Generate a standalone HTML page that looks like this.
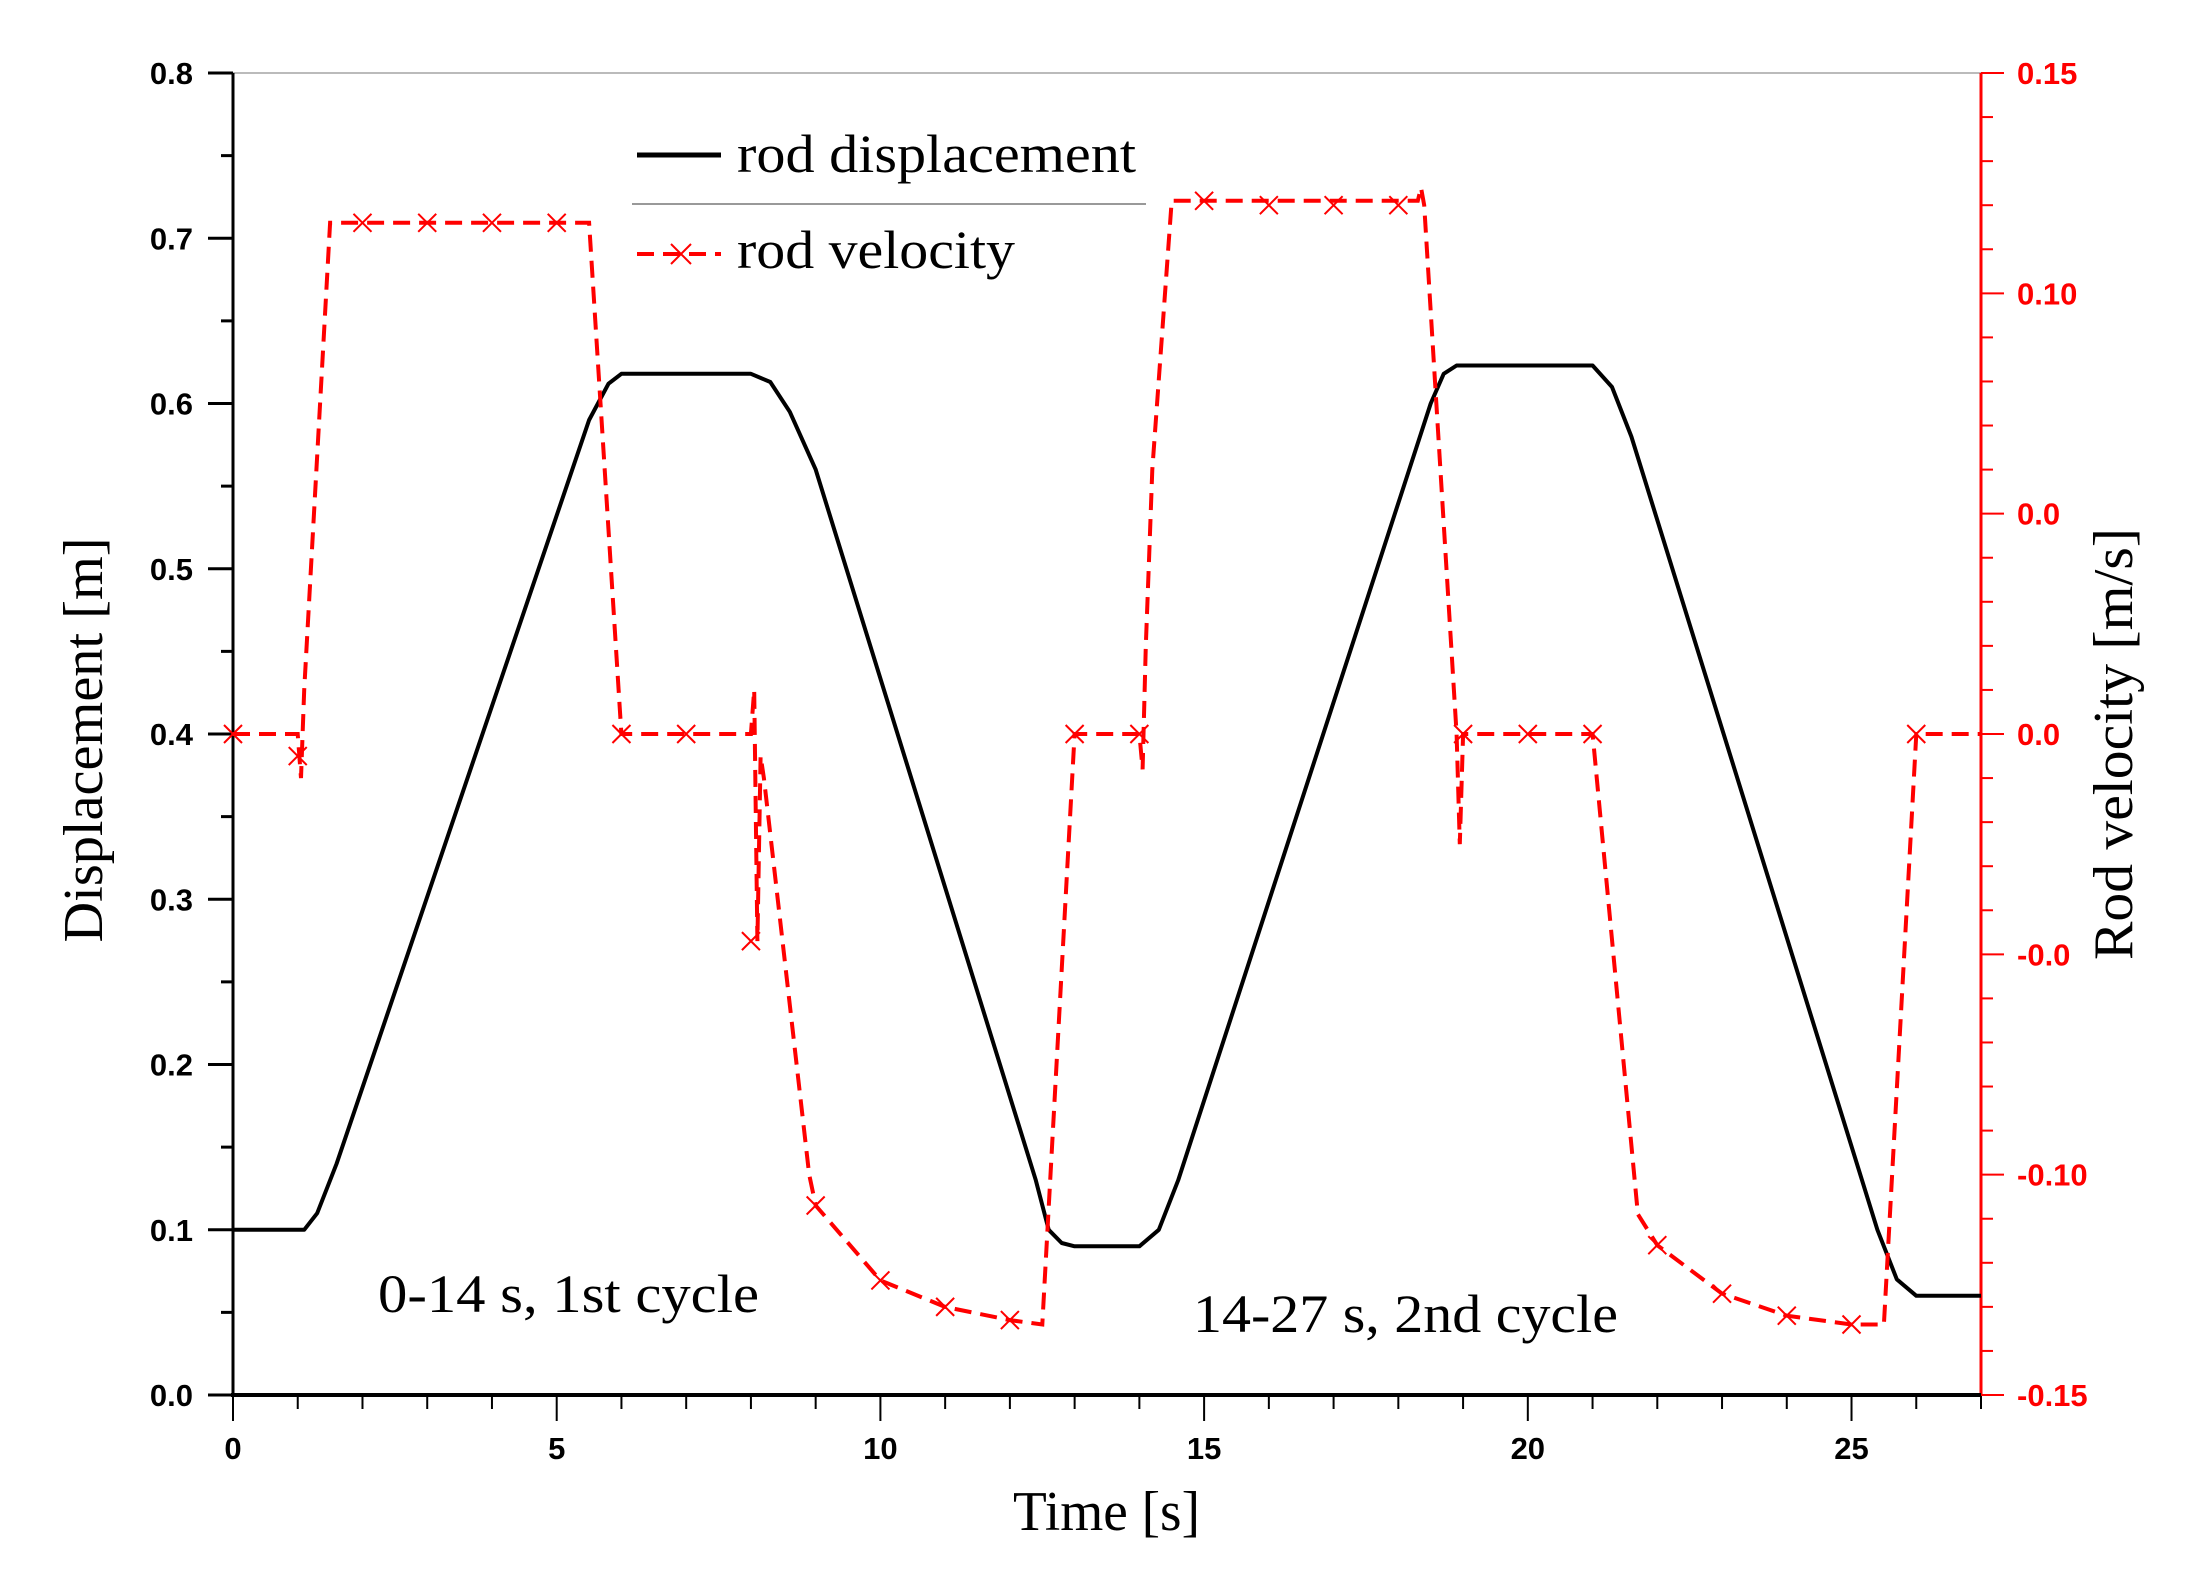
<!DOCTYPE html>
<html><head><meta charset="utf-8"><style>
html,body{margin:0;padding:0;background:#fff}
svg{display:block}
.tl{font-family:"Liberation Sans",sans-serif;font-weight:bold;font-size:31px}
.ser{font-family:"Liberation Serif",serif}
</style></head><body>
<svg id="chart" width="2187" height="1584" viewBox="0 0 2187 1584" xmlns="http://www.w3.org/2000/svg">
<g id="axes"></g>
<g id="series"></g>
<g>
  <line x1="637" y1="155" x2="721" y2="155" stroke="#000" stroke-width="5"/>
  <text class="ser" x="737" y="172" font-size="54" textLength="399" lengthAdjust="spacingAndGlyphs">rod displacement</text>
  <line x1="632" y1="204" x2="1146" y2="204" stroke="#999" stroke-width="2"/>
  <line x1="637" y1="254" x2="721" y2="254" stroke="#f00" stroke-width="4" stroke-dasharray="17,9"/>
  <path d="M671,244 L691,264 M671,264 L691,244" stroke="#f00" stroke-width="2"/>
  <text class="ser" x="737" y="268" font-size="54" textLength="278" lengthAdjust="spacingAndGlyphs">rod velocity</text>
</g>
<text class="ser" x="378" y="1312" font-size="54" textLength="381" lengthAdjust="spacingAndGlyphs">0-14 s, 1st cycle</text>
<text class="ser" x="1193" y="1332" font-size="54" textLength="425" lengthAdjust="spacingAndGlyphs">14-27 s, 2nd cycle</text>
<text class="ser" x="1013" y="1530" font-size="56" textLength="187" lengthAdjust="spacingAndGlyphs">Time [s]</text>
<text class="ser" font-size="56" text-anchor="middle" textLength="405" lengthAdjust="spacingAndGlyphs" transform="translate(102,740) rotate(-90)">Displacement [m]</text>
<text class="ser" font-size="56" text-anchor="middle" textLength="432" lengthAdjust="spacingAndGlyphs" transform="translate(2132,744) rotate(-90)">Rod velocity [m/s]</text>
</svg>
<script>
const xTicks=[0,5,10,15,20,25];
const yTicks=[0.0,0.1,0.2,0.3,0.4,0.5,0.6,0.7,0.8];
const y2Ticks=[-0.15,-0.10,-0.05,0.0,0.05,0.10,0.15];
const y2Labels=["-0.15","-0.10","-0.0","0.0","0.0","0.10","0.15"];
const dispT=[0,1.1,1.3,1.6,5.5,5.8,6.0,8.0,8.3,8.6,9.0,12.4,12.6,12.8,13.0,14.0,14.3,14.6,18.5,18.7,18.9,21.0,21.3,21.6,25.4,25.7,26.0,27];
const dispV=[0.1,0.1,0.11,0.14,0.59,0.612,0.618,0.618,0.613,0.595,0.56,0.13,0.1,0.092,0.09,0.09,0.1,0.13,0.6,0.618,0.623,0.623,0.61,0.58,0.1,0.07,0.06,0.06];
const velT=[0,1.0,1.05,1.1,1.5,5.5,6.0,8.0,8.05,8.1,8.15,8.2,8.9,9,10,11,12,12.5,13.0,14.0,14.05,14.1,14.15,14.2,14.5,18.3,18.35,18.4,18.9,18.95,19.0,21.0,21.7,22,23,24,25,25.5,26.0,27];
const velV=[0,0,-0.01,0.01,0.116,0.116,0,0,0.01,-0.047,-0.005,-0.01,-0.1,-0.107,-0.124,-0.130,-0.133,-0.134,0,0,-0.008,0.02,0.04,0.06,0.121,0.121,0.124,0.12,0,-0.025,0,0,-0.109,-0.116,-0.127,-0.132,-0.134,-0.134,0,0];
const mkT=[0,1,2,3,4,5,6,7,8,9,10,11,12,13,14,15,16,17,18,19,20,21,22,23,24,25,26];
const mkV=[0,-0.005,0.116,0.116,0.116,0.116,0,0,-0.047,-0.107,-0.124,-0.130,-0.133,0,0,0.121,0.120,0.120,0.120,0,0,0,-0.116,-0.127,-0.132,-0.134,0];

const L=233,R=1981,T=73,B=1395;
const xs=t=>L+t*(R-L)/27;
const yl=v=>B-v*(B-T)/0.8;
const yr=v=>B-(v+0.15)*(B-T)/0.3;
const NS="http://www.w3.org/2000/svg";
const axes=document.getElementById('axes'),ser=document.getElementById('series');
function mk(tag,attrs,parent){const e=document.createElementNS(NS,tag);for(const k in attrs)e.setAttribute(k,attrs[k]);parent.appendChild(e);return e;}

let e;
e=mk('line',{x1:L,y1:T,x2:R,y2:T,stroke:'#bbb','stroke-width':2},axes);


e=mk('line',{x1:L,y1:T,x2:L,y2:B,stroke:'#000','stroke-width':3},axes);


e=mk('line',{x1:R,y1:T,x2:R,y2:B,stroke:'#f00','stroke-width':3},axes);


e=mk('line',{x1:L-2,y1:B,x2:R,y2:B,stroke:'#000','stroke-width':4},axes);



for(let t=0;t<=27;t++){const maj=t%5===0;
  e=mk('line',{x1:xs(t),y1:B,x2:xs(t),y2:B+(maj?26:14),stroke:'#000','stroke-width':2},axes);
  
  }
xTicks.forEach(t=>{e=mk('text',{x:xs(t),y:1459,'text-anchor':'middle',class:'tl'},axes);e.textContent=t;
  
  });
for(let i=0;i<=16;i++){const v=i*0.05,maj=i%2===0;
  e=mk('line',{x1:L-(maj?25:12),y1:yl(v),x2:L,y2:yl(v),stroke:'#000','stroke-width':3},axes);
  
  }
yTicks.forEach(v=>{e=mk('text',{x:193,y:yl(v)+11,'text-anchor':'end',class:'tl'},axes);e.textContent=v.toFixed(1);
  
  });
for(let i=0;i<=30;i++){const v=-0.15+i*0.01,maj=i%5===0;
  e=mk('line',{x1:R,y1:yr(v),x2:R+(maj?23:12),y2:yr(v),stroke:'#f00','stroke-width':2},axes);
  
  }
y2Ticks.forEach((v,i)=>{e=mk('text',{x:2017,y:yr(v)+11,class:'tl',fill:'#f00'},axes);e.textContent=y2Labels[i];
  
  });

e=mk('path',{d:dispT.map((t,i)=>(i?'L':'M')+xs(t).toFixed(1)+','+yl(dispV[i]).toFixed(1)).join(' '),fill:'none',stroke:'#000','stroke-width':4,'stroke-linejoin':'round'},ser);


e=mk('path',{d:velT.map((t,i)=>(i?'L':'M')+xs(t).toFixed(1)+','+yr(velV[i]).toFixed(1)).join(' '),fill:'none',stroke:'#f00','stroke-width':4,'stroke-dasharray':'17,9'},ser);


mkT.forEach((t,i)=>{const x=xs(t),y=yr(mkV[i]);
  e=mk('path',{d:`M${x-9},${y-9} L${x+9},${y+9} M${x-9},${y+9} L${x+9},${y-9}`,stroke:'#f00','stroke-width':2},ser);
  
  });
</script>
</body></html>
